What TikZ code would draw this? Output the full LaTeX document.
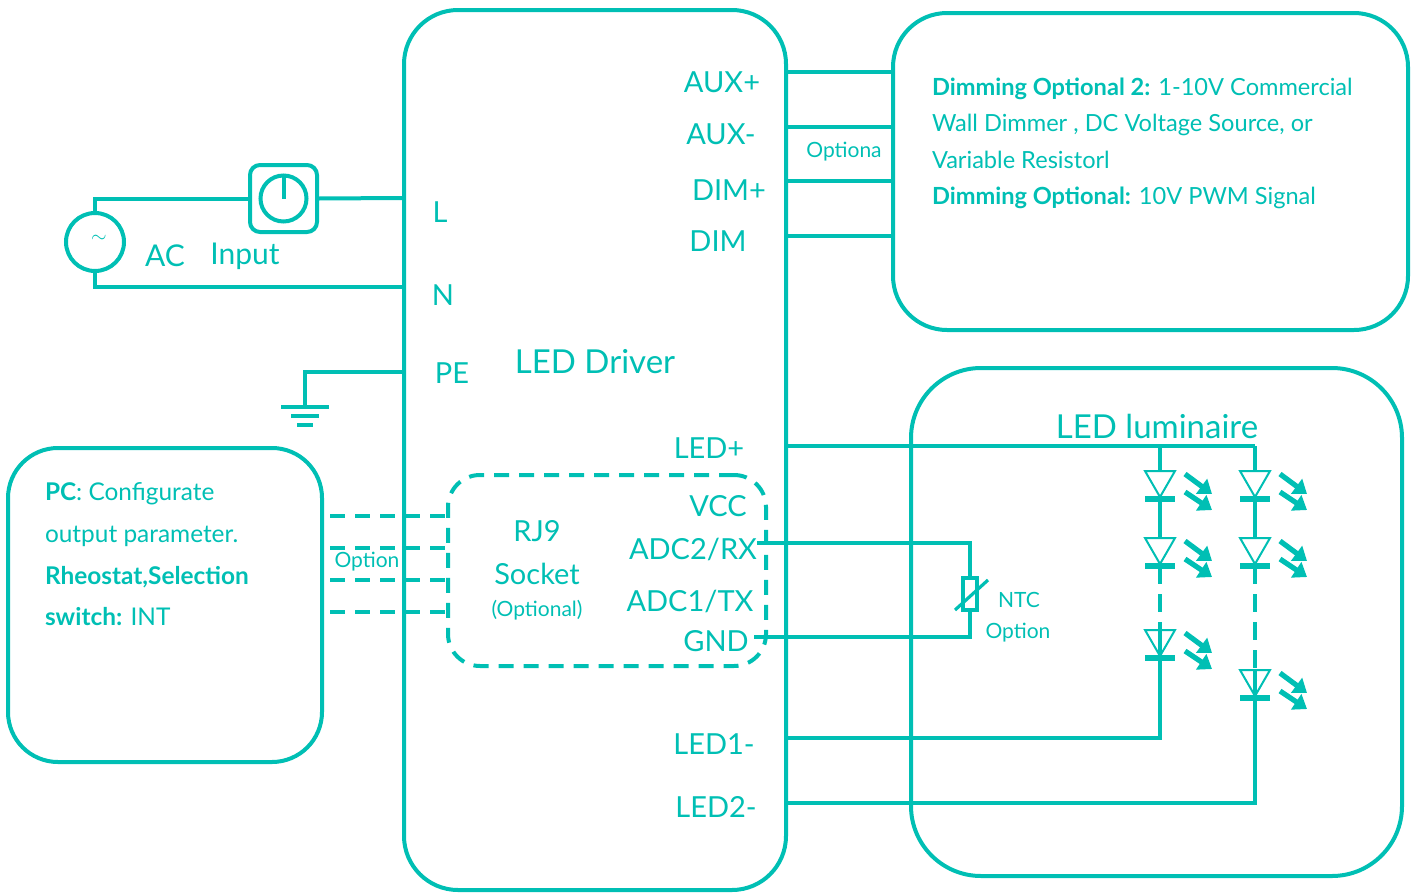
\documentclass[tikz,border=0pt]{standalone}
\usepackage{fontspec}
\setmainfont{Lato}
\usetikzlibrary{arrows.meta,positioning}
\definecolor{tealdrv}{RGB}{0,191,180}

\tikzset{
  box/.style={draw, rounded corners=27pt, inner sep=0pt},
  pinlabel/.style={font=\fontsize{14.5}{16}\selectfont},
  smalllabel/.style={font=\fontsize{10.5}{12}\selectfont},
  titlelabel/.style={font=\fontsize{16.5}{19}\selectfont},
  led/.pic={
    \draw[line width=1pt, fill=white] (-15,0) -- (15,0) -- (0,26) -- cycle;
    \draw[line width=3pt] (-15,28) -- (15,28);
    \draw[line width=2.6pt, -{Triangle[length=6.5pt,width=9pt]}] (25,3) -- (52,23);
    \draw[line width=2.6pt, -{Triangle[length=6.5pt,width=9pt]}] (25,21) -- (52,39);
    \coordinate (-a) at (0,0);
    \coordinate (-k) at (0,28);
  }
}

\begin{document}
\begin{tikzpicture}[x=0.5pt, y=-0.5pt, line width=2pt, color=tealdrv]
  \useasboundingbox (0,0) rectangle (1413,894);

  \node[box, minimum width=191pt, minimum height=440pt] (drv) at (595,450) {};
  \node[box, minimum width=257.5pt, minimum height=158.5pt] (dim) at (1150.5,171.5) {};
  \node[box, rounded corners=35pt, minimum width=245.5pt, minimum height=254pt] (lum) at (1156.5,622) {};
  \node[box, rounded corners=25pt, minimum width=157pt, minimum height=157pt] (pc) at (165,605) {};
  \node[box, dashed, dash pattern=on 7.5pt off 5pt, rounded corners=16pt,
        minimum width=159pt, minimum height=95.5pt] (rj) at (607,570.5) {};

  % driver labels
  \node[titlelabel] at (595,362) {LED Driver};
  \node[pinlabel] at (722,82) {AUX+};
  \node[pinlabel] at (721,134) {AUX-};
  \node[pinlabel] at (729,190) {DIM+};
  \node[pinlabel] at (718,241) {DIM};
  \node[pinlabel] at (440,212) {L};
  \node[pinlabel] at (443,295) {N};
  \node[pinlabel] at (452,373) {PE};
  \node[pinlabel] at (709,448) {LED+};
  \node[pinlabel] at (718,506) {VCC};
  \node[pinlabel] at (693,549) {ADC2/RX};
  \node[pinlabel] at (690,601) {ADC1/TX};
  \node[pinlabel] at (716,641) {GND};
  \node[pinlabel] at (714,744) {LED1-};
  \node[pinlabel] at (716,807) {LED2-};
  \node[pinlabel] at (537,531) {RJ9};
  \node[pinlabel] at (537,574) {Socket};
  \node[smalllabel] at (537,610) {(Optional)};
  \node[smalllabel] at (844,152) {Optiona};
  \node[smalllabel] at (367,562) {Option};

  % dimming wires
  \foreach \y/\n in {72/auxa, 127/auxb, 181/dima, 236/dimb} {
    \coordinate (\n) at (drv.east |- 0,\y);
    \draw (\n) -- (\n -| dim.west);
  }
  \node[anchor=west, align=left, inner sep=0pt, font=\fontsize{11.8}{18.15}\selectfont] at (930,143.5)
    {\textbf{Dimming Optional 2:} 1-10V Commercial\\
     Wall Dimmer , DC Voltage Source, or\\
     Variable Resistorl\\
     \textbf{Dimming Optional:} 10V PWM Signal};

  % AC input
  \node[draw, circle, minimum size=29pt, inner sep=0pt] (ac) at (95,242) {};
  \node at (99,239) {\fontsize{10}{10}\selectfont$\sim$};
  \node[draw, rounded corners=5pt, minimum size=33.5pt, inner sep=0pt] (sw) at (283.5,198.5) {};
  \node[draw, circle, minimum size=23pt, inner sep=0pt] (knob) at (sw.center) {};
  \draw (knob.north) -- (knob.center);
  \coordinate (lpin) at (drv.west |- 0,198);
  \coordinate (npin) at (drv.west |- 0,287);
  \coordinate (pepin) at (drv.west |- 0,372);
  \draw (ac.north) |- (sw.west);
  \draw (sw.east) -- (lpin);
  \draw (ac.south) |- (npin);
  \node[font=\fontsize{15}{17}\selectfont] at (165,256) {AC};
  \node[font=\fontsize{15}{17}\selectfont] at (245,256) {Input};

  % earth
  \coordinate (gnd) at (305,407);
  \draw (pepin) -| (gnd);
  \draw ([xshift=-12pt]gnd) -- ([xshift=12pt]gnd);
  \draw ([shift={(-14,9)}]gnd) -- ([shift={(14,9)}]gnd);
  \draw ([shift={(-8,18)}]gnd) -- ([shift={(8,18)}]gnd);

  % PC box
  \node[anchor=west, align=left, inner sep=0pt, font=\fontsize{12.2}{20.8}\selectfont] at (43,554.5)
    {\textbf{PC}: Configurate\\
     output parameter.\\
     \textbf{Rheostat,Selection}\\
     \textbf{switch:} INT};
  \foreach \y in {516,548,580,612}
    \draw[dashed, dash pattern=on 7.5pt off 5pt] (330,\y) -- (rj.west |- 0,\y);

  % NTC
  \node[draw, minimum width=7pt, minimum height=16pt, inner sep=0pt] (ntc) at (970,594) {};
  \coordinate (rxpin) at (757,543);
  \coordinate (gndpin) at (754,637);
  \draw (rxpin) -| (ntc.north);
  \draw (gndpin) -| (ntc.south);
  \draw[line width=1.6pt] ([shift={(-15,16)}]ntc.center) -- ([shift={(18,-14)}]ntc.center);
  \node[smalllabel] at (1019,600) {NTC};
  \node[smalllabel] at (1018,633) {Option};

  % luminaire
  \node[titlelabel] at (1157,426) {LED luminaire};
  \coordinate (ledp) at (drv.east |- 0,446);
  \coordinate (led1) at (drv.east |- 0,738);
  \coordinate (led2) at (drv.east |- 0,803);
  \coordinate (s1) at (1160,446);
  \coordinate (s2) at (1255,446);
  \draw (ledp) -- (s2);
  \draw (s1) -- (1160,471) (s2) -- (1255,471);
  \draw (1160,499) -- (1160,538) (1255,499) -- (1255,538);
  \draw[dashed, dash pattern=on 9pt off 5pt] (1160,566) -- (1160,630);
  \draw[dashed, dash pattern=on 9pt off 5pt] (1255,566) -- (1255,670);
  \pic (d11) at (1160,471) {led};
  \pic (d12) at (1160,538) {led};
  \pic (d13) at (1160,630) {led};
  \pic (d21) at (1255,471) {led};
  \pic (d22) at (1255,538) {led};
  \pic (d23) at (1255,670) {led};
  \draw (d13-a) -- (d13-k) |- (led1);
  \draw (d23-a) -- (d23-k) |- (led2);
\end{tikzpicture}
\end{document}
